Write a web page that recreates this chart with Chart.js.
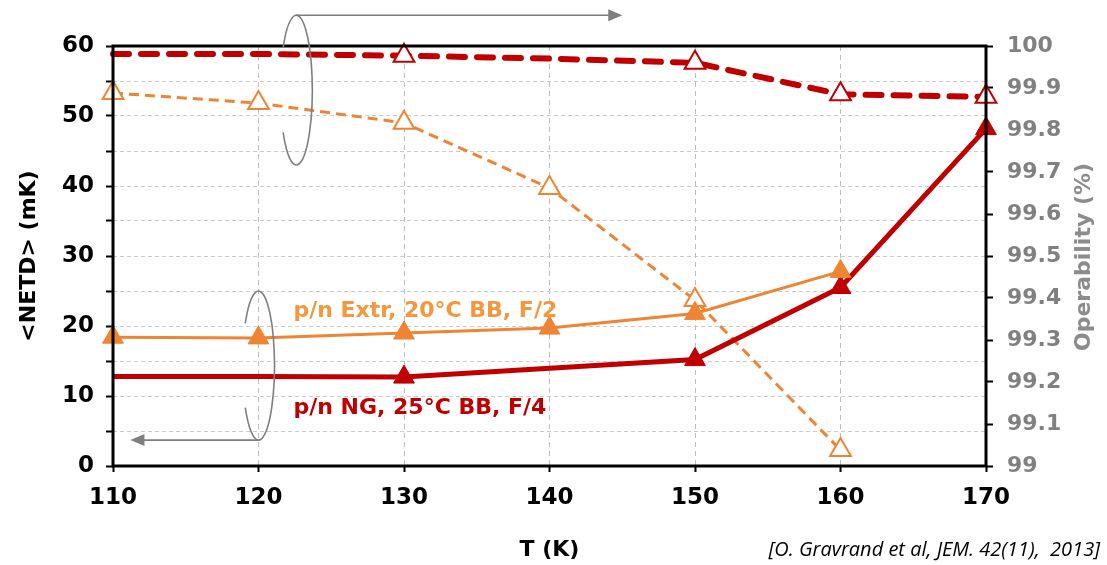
<!DOCTYPE html>
<html>
<head>
<meta charset="utf-8">
<script src="https://cdn.jsdelivr.net/npm/chart.js@4"></script>
<style>
  html, body { margin: 0; padding: 0; background: #fff; }
  #wrap { width: 1107px; height: 565px; }
</style>
</head>
<body>
<div id="wrap"><canvas id="netdChart" width="1107" height="565"></canvas></div>
<script>
// temperatures (K)
const temps = [110, 120, 130, 140, 150, 160, 170];

// <NETD> (mK), left axis
const netdExtr = [18.4, 18.3, 19.0, 19.7, 21.8, 27.8];          // 110..160
const netdNgT = [110, 120, 130, 150, 160, 170];
const netdNg = [12.8, 12.8, 12.7, 15.2, 25.5, 48.2];

// operability (%), right axis
const operExtr = [99.888, 99.864, 99.817, 99.662, 99.395, 99.038]; // 110..160
const operNg = [99.981, 99.981, 99.977, 99.97, 99.96, 99.885, 99.879];

const RED = '#C00000';
const ORANGE = '#EE8434';
const GREY = '#7F7F7F';
const FONT = '"DejaVu Sans", Verdana, sans-serif';

const pts = (xs, ys) => ys.map((y, i) => ({ x: xs[i], y: y }));

// decorations: frame, ellipses + arrows, in-plot labels, right title, citation
const decorations = {
    id: 'decorations',
    afterDraw(chart) {
        const { ctx, chartArea: a, scales } = chart;
        const x = scales.x, yl = scales.yL;
        ctx.save();
        // plot frame
        ctx.strokeStyle = '#000';
        ctx.lineWidth = 3;
        ctx.strokeRect(a.left, a.top, a.right - a.left, a.bottom - a.top);

        // ellipses with arrows
        ctx.strokeStyle = GREY;
        ctx.fillStyle = GREY;
        ctx.lineWidth = 1.6;
        const loop = (cxv, topv, botv, arrowToV, atTop) => {
            const cx = x.getPixelForValue(cxv);
            const y1 = yl.getPixelForValue(topv), y2 = yl.getPixelForValue(botv);
            const cy = (y1 + y2) / 2, ry = (y2 - y1) / 2, rx = 16;
            ctx.beginPath();
            ctx.ellipse(cx, cy, rx, ry, 0, Math.PI + 0.6, Math.PI - 0.6 + 2 * Math.PI);
            ctx.stroke();
            const ly = atTop ? y1 : y2;
            const tx = x.getPixelForValue(arrowToV);
            const dir = tx > cx ? 1 : -1;
            ctx.beginPath();
            ctx.moveTo(cx, ly);
            ctx.lineTo(tx - dir * 12, ly);
            ctx.stroke();
            ctx.beginPath();
            ctx.moveTo(tx, ly);
            ctx.lineTo(tx - dir * 14, ly - 6);
            ctx.lineTo(tx - dir * 14, ly + 6);
            ctx.closePath();
            ctx.fill();
        };
        loop(122.6, 64.4, 43, 145, true);
        loop(120, 25, 3.7, 111.2, false);

        // series labels
        ctx.font = 'bold 22px ' + FONT;
        ctx.textBaseline = 'middle';
        ctx.textAlign = 'left';
        ctx.fillStyle = '#F5973C';
        ctx.fillText('p/n Extr, 20°C BB, F/2', x.getPixelForValue(122.4), yl.getPixelForValue(22.1));
        ctx.fillStyle = RED;
        ctx.fillText('p/n NG, 25°C BB, F/4', x.getPixelForValue(122.4), yl.getPixelForValue(8.3));

        // right axis title
        ctx.save();
        ctx.translate(1084, 257);
        ctx.rotate(-Math.PI / 2);
        ctx.textAlign = 'center';
        ctx.fillStyle = '#8C8C8C';
        ctx.font = 'bold 22px ' + FONT;
        ctx.fillText('Operability (%)', 0, 0);
        ctx.restore();

        // citation
        ctx.textAlign = 'right';
        ctx.textBaseline = 'alphabetic';
        ctx.fillStyle = '#000';
        ctx.font = 'italic 20px "Open Sans", "Liberation Sans", sans-serif';
        ctx.fillText('[O. Gravrand et al, JEM. 42(11),  2013]', 1100, 556);
        ctx.restore();
    }
};

document.addEventListener('DOMContentLoaded', () => {
    const ctx = document.getElementById('netdChart').getContext('2d');
    new Chart(ctx, {
        type: 'line',
        data: {
            datasets: [
                {
                    label: 'NETD Extr',
                    data: pts(temps, netdExtr),
                    yAxisID: 'yL',
                    borderColor: ORANGE,
                    backgroundColor: ORANGE,
                    borderWidth: 3,
                    pointStyle: 'triangle',
                    pointRadius: 12,
                    pointBorderWidth: 1,
                    clip: false,
                    tension: 0
                },
                {
                    label: 'NETD NG',
                    data: pts(netdNgT, netdNg),
                    yAxisID: 'yL',
                    borderColor: RED,
                    backgroundColor: RED,
                    borderWidth: 5,
                    pointStyle: 'triangle',
                    pointRadius: [0, 0, 12, 12, 12, 12],
                    pointBorderWidth: 1,
                    clip: false,
                    tension: 0
                },
                {
                    label: 'Operability Extr',
                    data: pts(temps, operExtr),
                    yAxisID: 'yR',
                    borderColor: ORANGE,
                    backgroundColor: '#fff',
                    borderWidth: 3,
                    borderDash: [10, 6],
                    pointStyle: 'triangle',
                    pointRadius: 12,
                    pointBorderWidth: 2,
                    clip: false,
                    tension: 0
                },
                {
                    label: 'Operability NG',
                    data: pts(temps, operNg),
                    yAxisID: 'yR',
                    borderColor: RED,
                    backgroundColor: '#fff',
                    borderWidth: 6,
                    borderDash: [16, 12],
                    borderCapStyle: 'round',
                    pointStyle: 'triangle',
                    pointRadius: [0, 0, 12, 0, 12, 12, 12],
                    pointBorderWidth: 2,
                    clip: false,
                    tension: 0
                }
            ]
        },
        options: {
            responsive: false,
            animation: false,
            layout: { padding: { top: 46, left: 0, right: 0, bottom: 0 } },
            plugins: {
                legend: { display: false },
                tooltip: { enabled: false }
            },
            scales: {
                x: {
                    type: 'linear',
                    min: 110,
                    max: 170,
                    afterFit: s => { s.height = 99; },
                    ticks: {
                        stepSize: 10,
                        color: '#000',
                        padding: 12,
                        font: { family: FONT, size: 23, weight: 'bold' }
                    },
                    grid: { color: '#BDBDBD', tickColor: '#000', tickLength: 6, tickWidth: 2, tickBorderDash: [] },
                    border: { display: false, dash: [5, 4] },
                    title: {
                        display: true,
                        text: 'T (K)',
                        color: '#000',
                        padding: { top: 0, bottom: 2 },
                        font: { family: FONT, size: 22, weight: 'bold' }
                    }
                },
                yL: {
                    position: 'left',
                    min: 0,
                    max: 60,
                    afterFit: s => { s.width = 113; },
                    ticks: {
                        stepSize: 5,
                        color: '#000',
                        padding: 12,
                        font: { family: FONT, size: 23, weight: 'bold' },
                        callback: v => (v % 10 === 0 ? String(v) : '')
                    },
                    grid: { color: '#CCCCCC', tickColor: '#000', tickLength: 7, tickWidth: 2, tickBorderDash: [] },
                    border: { display: false, dash: [4, 3] },
                    title: {
                        display: true,
                        text: '<NETD> (mK)',
                        color: '#000',
                        padding: { top: 16, bottom: 0 },
                        font: { family: FONT, size: 22, weight: 'bold' }
                    }
                },
                yR: {
                    position: 'right',
                    min: 99,
                    max: 100,
                    afterFit: s => { s.width = 121; },
                    afterBuildTicks: s => {
                        s.ticks = [];
                        for (let i = 0; i <= 10; i++) s.ticks.push({ value: 99 + i / 10 });
                    },
                    ticks: {
                        color: '#808080',
                        padding: 14,
                        font: { family: FONT, size: 22, weight: 'bold' },
                        callback: v => String(Number(v.toFixed(1)))
                    },
                    grid: { drawOnChartArea: false, tickColor: '#000', tickLength: 7, tickWidth: 2 },
                    border: { display: false }
                }
            }
        },
        plugins: [decorations]
    });
});
</script>
</body>
</html>
